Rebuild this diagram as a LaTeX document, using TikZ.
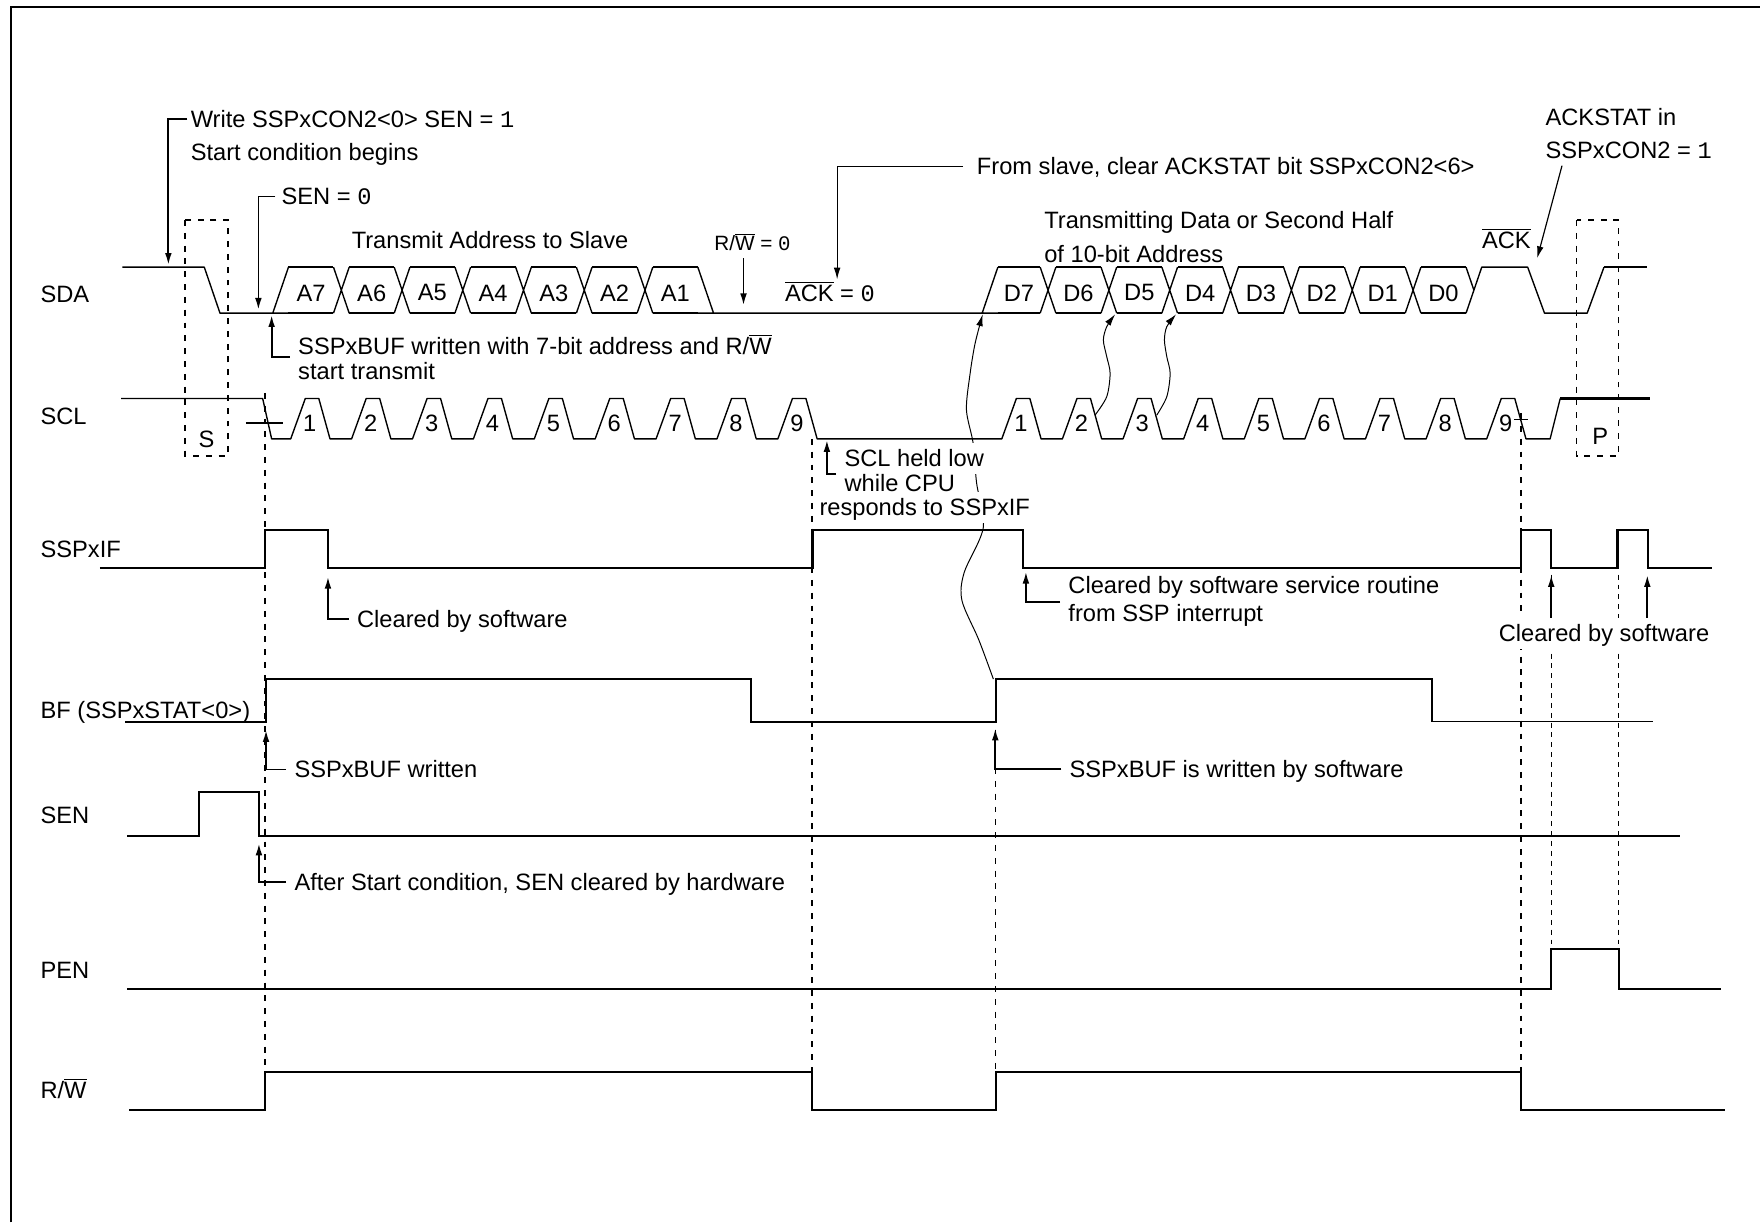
\documentclass[tikz,border=0pt]{standalone}
\usepackage{fontspec}
\setmainfont{Liberation Sans}
\setmonofont{Liberation Mono}
\usetikzlibrary{arrows.meta}
\newcommand{\barred}[1]{$\overline{\hbox{#1}}$}
\tikzset{
	wave/.style={line width=0.7pt,line join=round},
	level/.style={line width=1.1pt},
	note/.style={line width=0.9pt,-{Latex[length=6pt,width=3.4pt]}},
	wiggle/.style={line width=0.5pt,-{Latex[length=6pt,width=3.4pt]}},
	guide/.style={line width=0.8pt,dash pattern=on 3pt off 3.5pt},
	fineguide/.style={line width=0.6pt,dash pattern=on 2.5pt off 2.5pt},
	txt/.style={anchor=west,inner xsep=4pt,inner ysep=1pt,text height=11pt,text depth=2.4pt,font=\fontsize{12}{14}\selectfont},
	mtxt/.style={anchor=west,inner xsep=4pt,inner ysep=1pt,align=left},
	cell/.style={inner sep=0pt,font=\fontsize{12}{14}\selectfont}
}
\begin{document}
\begin{tikzpicture}[x=0.02cm,y=-0.02cm]
		\useasboundingbox (0,0) rectangle (1568,1089);
		\draw[line width=1pt] (10,1089) -- (10,6) -- (1568,6);
		\draw[wiggle] plot[smooth] coordinates {(885,605) (872,570) (857,535) (859,510) (876,470) (870,430) (867,395) (861,365) (864.3,332.6) (868.7,306) (875.5,280)};
		\draw[wiggle] plot[smooth] coordinates {(975.6,369.8) (986,353.4) (989,332.6) (986,317.8) (983,303) (986,291) (993.5,280)};
		\draw[wiggle] plot[smooth] coordinates {(1030.6,369.8) (1039.5,353.4) (1042.5,332.6) (1039.5,317.8) (1037.4,303) (1039.5,291) (1047.8,280)};
		\draw[wave] (109,238) -- (182,238) -- (196,279) -- (257,279) (243,279) -- (257,238);
		\draw[wave] (621.7,238) -- (635.7,279) (621.7,279) -- (889,279) (875,279) -- (889,238);
		\foreach \l/\r/\t in {250/304.1/A7,304.1/358.2/A6,358.2/412.3/A5,412.3/466.4/A4,466.4/520.5/A3,520.5/574.6/A2,574.6/628.7/A1,882/933.7/D7,933.7/987.9/D6,987.9/1042.1/D5,1042.1/1096.3/D4,1096.3/1150.5/D3,1150.5/1204.7/D2,1204.7/1258.9/D1,1258.9/1313.1/D0} {
			\draw[wave] (\l+7,238) -- (\r-7,238) (\l+7,279) -- (\r-7,279);
			\node[cell] (\t) at ({(\l+\r)/2},261) {\t};
		}
		\foreach \c in {304.1,358.2,412.3,466.4,520.5,574.6,933.7,987.9,1042.1,1096.3,1150.5,1204.7,1258.9}
			\draw[wave] (\c-7,238) -- (\c+7,279) (\c-7,279) -- (\c+7,238);
		\draw[wave] (1306.1,238) -- (1313.1,258.5) (1306.1,279) -- (1320.1,238) -- (1361,238) -- (1376,279) -- (1414,279) -- (1429,238);
		\draw[level] (1429,238) -- (1467,238);
		\draw[wave] (108,355) -- (234,355) -- (242,391)
			\foreach \k in {0,...,8} { -- ({259+54.25*\k},391) -- ({272+54.25*\k},355) -- ({284+54.25*\k},355) -- ({294+54.25*\k},391) }
			\foreach \k in {0,...,8} { -- ({892.5+54*\k},391) -- ({905.5+54*\k},355) -- ({917.5+54*\k},355) -- ({927.5+54*\k},391) }
			-- (1381,391) -- (1390,355);
		\draw[level] (1390,355) -- (1470,355);
		\foreach \k in {1,...,9} {
			\node[cell] (a\k) at ({276+54.25*(\k-1)},377) {\k};
			\node[cell] (b\k) at ({909.5+54*(\k-1)},377) {\k};
		}
		\draw[wave] (219,377) -- (252,377) (1349,374) -- (1361,374);
		\draw[level] (89,506) -- (236,506) -- (236,472) -- (292.5,472) -- (292.5,506) -- (723.8,506) -- (723.8,472) -- (911.6,472) -- (911.6,506) -- (1354.8,506) -- (1354.8,472) -- (1382,472) -- (1382,506) -- (1441,506) -- (1441,472) -- (1468.5,472) -- (1468.5,506) -- (1525,506);
		\draw[level] (111.8,643) -- (237,643) -- (237,605) -- (669,605) -- (669,643) -- (887,643) -- (887,605) -- (1275.6,605) -- (1275.6,643);
		\draw[wave] (1275.6,643) -- (1473,643);
		\draw[level] (113.5,744.6) -- (177.5,744.6) -- (177.5,705.7) -- (230.7,705.7) -- (230.7,744.6) -- (1496.6,744.6);
		\draw[level] (113.5,881) -- (1381.6,881) -- (1381.6,845.8) -- (1442,845.8) -- (1442,881) -- (1533,881);
		\draw[level] (115,989) -- (235.8,989) -- (235.8,955) -- (723.2,955) -- (723.2,989) -- (887,989) -- (887,955) -- (1355,955) -- (1355,989) -- (1536.6,989);
		\draw[guide] (165,196) rectangle (203,406);
		\draw[guide] (1404.5,196) rectangle (1442,406);
		\node[cell] (sbox) at (184,391) {S};
		\node[cell] (pbox) at (1425.6,389) {P};
		\node[txt,inner xsep=0pt] (lsda) at (35.8,262) {SDA};
		\node[txt,inner xsep=0pt] (lscl) at (35.8,371) {SCL};
		\node[txt,inner xsep=0pt] (lif) at (35.8,489) {SSPxIF};
		\node[txt,inner xsep=0pt] (lbf) at (35.8,632.6) {BF (SSPxSTAT<0>)};
		\node[txt,inner xsep=0pt] (lsen) at (35.8,726) {SEN};
		\node[txt,inner xsep=0pt] (lpen) at (35.8,864) {PEN};
		\node[txt,inner xsep=0pt] (lrw) at (35.8,971) {R/\barred{W}};
		\node[txt,fill=white] (hold1) at (745,408.4) {SCL held low};
		\node[txt] (hold2) at (745,430.6) {while CPU};
		\node[txt,fill=white,inner xsep=1pt] (hold3) at (728,452) {responds to SSPxIF};
		\draw[guide] (236,350) -- (236,955);
		\draw[guide] (723.5,391) -- (723.5,955);
		\draw[guide] (887,650) -- (887,955);
		\draw[guide] (1355,368) -- (1355,955);
		\draw[fineguide] (1382,512) -- (1382,846);
		\draw[fineguide] (1442,512) -- (1442,846);
		\node[txt,inner xsep=1.5pt] (wr1) at (167,106) {Write SSPxCON2<0> SEN = \texttt{1}};
		\node[txt,inner xsep=1.5pt] (wr2) at (167,135) {Start condition begins};
		\node[txt,inner xsep=3pt] (sen0) at (245.3,175) {SEN = \texttt{0}};
		\node[txt] (tas) at (306,214) {Transmit Address to Slave};
		\node[txt,font=\fontsize{10.5}{12}\selectfont] (rw0) at (629,216) {R/\barred{W} = \texttt{0}};
		\node[txt] (ack0) at (692,261) {\barred{ACK} = \texttt{0}};
		\node[txt] (fs) at (863,148) {From slave, clear ACKSTAT bit SSPxCON2<6>};
		\node[txt] (tdata1) at (923,196) {Transmitting Data or Second Half};
		\node[txt] (tdata2) at (923,226) {of 10-bit Address};
		\node[txt] (ackb) at (1313,214) {\barred{ACK}};
		\node[txt] (as1) at (1369.6,104.5) {ACKSTAT in};
		\node[txt] (as2) at (1369.6,133.7) {SSPxCON2 = \texttt{1}};
		\node[mtxt,font=\fontsize{12}{12.5}\selectfont] (buf) at (258.3,318) {SSPxBUF written with 7-bit address and R/\barred{W}\\start transmit};
		\node[txt] (clr1) at (310.8,551.8) {Cleared by software};
		\node[mtxt,font=\fontsize{12}{14.2}\selectfont] (clsr) at (944.5,536) {Cleared by software service routine\\from SSP interrupt};
		\node[txt,anchor=center,fill=white] (clr2) at (1429,564.3) {Cleared by software};
		\node[txt] (bufw) at (255,685.5) {SSPxBUF written};
		\node[txt] (bufs) at (945.5,685) {SSPxBUF is written by software};
		\node[txt] (aft) at (255,785.7) {After Start condition, SEN cleared by hardware};
		\coordinate (wrtip) at (150,236);
		\coordinate (sentip) at (230.2,276);
		\coordinate (rwtip) at (662.4,272);
		\coordinate (acktip) at (745.8,249);
		\coordinate (astip) at (1369.5,230);
		\coordinate (buftip) at (242,280.7);
		\coordinate (holdtip) at (736.7,392);
		\coordinate (clr1tip) at (292.2,513.8);
		\coordinate (clsrtip) at (914,509.3);
		\coordinate (clr2a) at (1382,512.3);
		\coordinate (clr2b) at (1467.6,512.3);
		\coordinate (bufwtip) at (237,650.4);
		\coordinate (bufstip) at (886.7,649);
		\coordinate (afttip) at (230.7,751.4);
		\draw[note] (wr1.west) -| (wrtip);
		\draw[note] (sen0.west) -| (sentip);
		\draw[note] (rw0.south -| rwtip) -- (rwtip);
		\draw[note,line width=0.6pt] ([xshift=-0.1cm]fs.west) -| (acktip);
		\draw[note,line width=0.6pt] ([xshift=0.44cm]as2.south west) -- (astip);
		\draw[note] (buf.west) -| (buftip);
		\draw[note] (hold1.south west) -| (holdtip);
		\draw[note] (clr1.west) -| (clr1tip);
		\draw[note] (clsr.west) -| (clsrtip);
		\draw[note] (clr2.north -| clr2a) -- (clr2a);
		\draw[note] (clr2.north -| clr2b) -- (clr2b);
		\draw[note] (bufw.west) -| (bufwtip);
		\draw[note] (bufs.west) -| (bufstip);
		\draw[note] (aft.west) -| (afttip);
	\end{tikzpicture}
\end{document}
